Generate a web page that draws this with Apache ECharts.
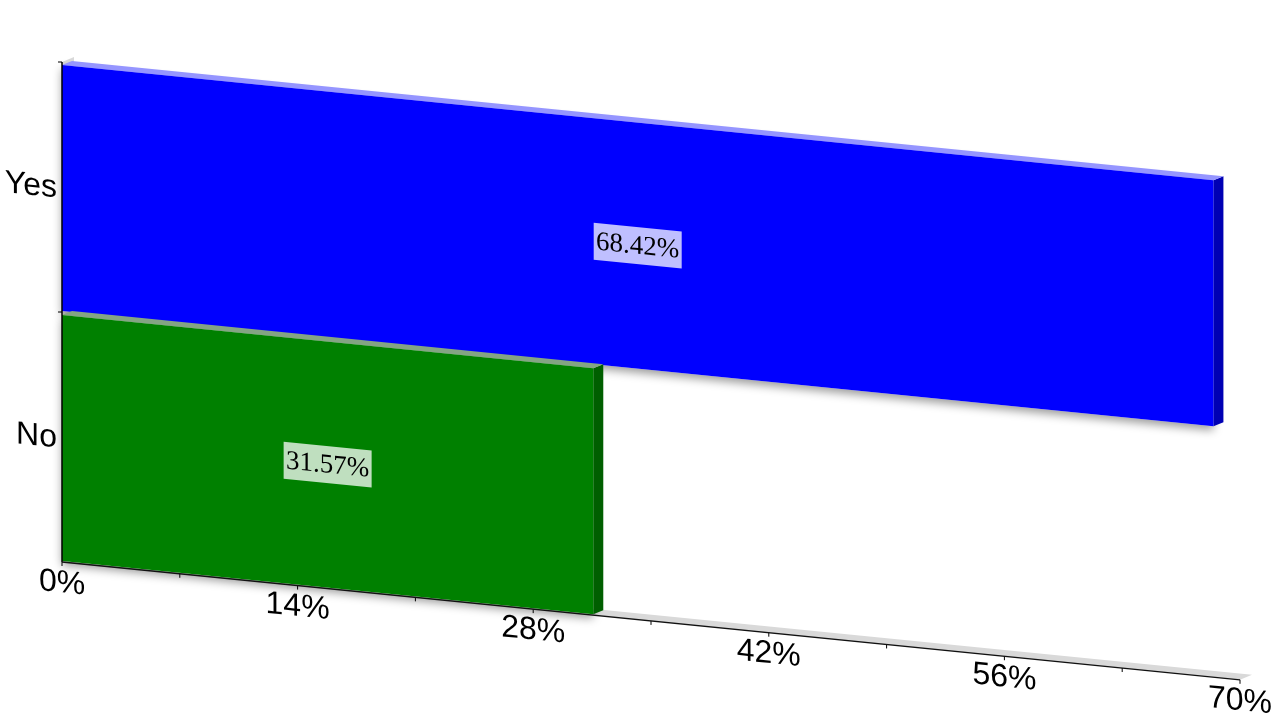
<!DOCTYPE html>
<html>
<head>
<meta charset="utf-8">
<style>html,body{margin:0;padding:0;background:#fff}#c{width:1280px;height:720px}</style>
<script src="https://cdn.jsdelivr.net/npm/echarts@6/dist/echarts.min.js"></script>
</head>
<body>
<div id="c"></div>
<script>
var categories = ['Yes', 'No'];
var values = [68.42, 31.57];
var valueLabels = ['68.42%', '31.57%'];
var faceColors = ['#0000ff', '#008000'];
var sideColors = ['#0000b4', '#005f00'];
var topColors = ['#9595ff', '#84a484'];
var xTicks = [0, 14, 28, 42, 56, 70];
var xTickLabels = ['0%', '14%', '28%', '42%', '56%', '70%'];
var xMinorTicks = [0, 7, 14, 21, 28, 35, 42, 49, 56, 63, 70];

var SLOPE = 0.1, DX = 10, DY = -4, WALLX = 12, WALLY = -5;
var sansFont = '32px "Liberation Sans", Arial, sans-serif';
var serifFont = '27px "Liberation Serif", "Times New Roman", serif';

// vertical shear of the text, expressed as rotate * scale * rotate (zrender has no skew prop on custom elements)
var shear = (function (s) {
  var E = 1, F = 0, G = s / 2, H = s / 2;
  var Q = Math.sqrt(E * E + H * H), R = Math.sqrt(F * F + G * G);
  var a1 = Math.atan2(G, F), a2 = Math.atan2(H, E);
  return { sx: Q + R, sy: Q - R, outer: -(a2 + a1) / 2, inner: -(a2 - a1) / 2 };
})(SLOPE);

function skewText(x, y, text, font, align) {
  return {
    type: 'group', x: x, y: y, rotation: shear.outer, scaleX: shear.sx, scaleY: shear.sy, silent: true,
    children: [{ type: 'text', x: 0, y: 0, rotation: shear.inner, silent: true,
      style: { text: text, font: font, fill: '#000', align: align || 'center', verticalAlign: 'middle' } }]
  };
}

// project value/category position through the axes, then shear for the 3D view
function proj(api, v, c, off) {
  var p = api.coord([v, c]);
  var o = api.coord([0, c]);
  return [p[0], p[1] + (p[0] - o[0]) * SLOPE + (off || 0)];
}
function band(api) { return api.size([0, 1])[1]; }
function shift(p, dx, dy) { return [p[0] + dx, p[1] + dy]; }
function poly(points, style) {
  return { type: 'polygon', shape: { points: points }, style: style, silent: true };
}
function line(a, b, w, color) {
  return { type: 'line', shape: { x1: a[0], y1: a[1], x2: b[0], y2: b[1] }, style: { stroke: color || '#000', lineWidth: w || 1 }, silent: true };
}

function renderFrame(params, api) {
  if (params.dataIndex !== 0) return { type: 'group', children: [] };
  var h = band(api);
  var bl = proj(api, 0, 1, h / 2), br = proj(api, 70, 1, h / 2);
  var tl = proj(api, 0, 0, -h / 2);
  return { type: 'group', children: [
    poly([bl, br, shift(br, WALLX, WALLY), shift(bl, WALLX, WALLY)], { fill: '#d9d9d9' }),
    poly([tl, shift(tl, WALLX, WALLY), shift(bl, WALLX, WALLY), bl], { fill: '#d9d9d9' })
  ] };
}

function renderBar(params, api) {
  var i = params.dataIndex, c = api.value(1), v = api.value(0), h = band(api);
  var fl = proj(api, 0, c, -h / 2 + 3), fr = proj(api, v, c, -h / 2 + 3);
  var bl = proj(api, 0, c, h / 2 - 1), br = proj(api, v, c, h / 2 - 1);
  var front = [fl, fr, br, bl];
  var mid = proj(api, v / 2, c, 1);
  var bw = 44, bh = 18.5;
  var box = [
    [mid[0] - bw, mid[1] - bh - bw * SLOPE],
    [mid[0] + bw, mid[1] - bh + bw * SLOPE],
    [mid[0] + bw, mid[1] + bh + bw * SLOPE],
    [mid[0] - bw, mid[1] + bh - bw * SLOPE]
  ];
  return { type: 'group', children: [
    poly(front, { fill: '#fff', shadowBlur: 10, shadowColor: 'rgba(0,0,0,0.4)', shadowOffsetY: 4 }),
    poly([fr, shift(fr, DX, DY), shift(br, DX, DY), br], { fill: sideColors[i] }),
    poly([fl, fr, shift(fr, DX, DY), shift(fl, DX, DY)], { fill: topColors[i] }),
    poly(front, { fill: faceColors[i] }),
    poly(box, { fill: 'rgba(255,255,255,0.75)' }),
    skewText(mid[0], mid[1] + 1, valueLabels[i], serifFont)
  ] };
}

function renderXTick(params, api) {
  var p = proj(api, api.value(0), 1, band(api) / 2);
  return line(p, [p[0], p[1] + 4], 1);
}

function renderXLabel(params, api) {
  var p = proj(api, api.value(0), 1, band(api) / 2);
  return skewText(p[0], p[1] + 21.5, xTickLabels[params.dataIndex], sansFont);
}

function renderYAxis(params, api) {
  var c = api.value(1), h = band(api);
  var top = proj(api, 0, c, -h / 2), bot = proj(api, 0, c, h / 2);
  var kids = [
    line(top, bot, 1.5),
    line(top, [top[0] - 4, top[1]], 1),
    skewText(top[0] - 5, top[1] + h / 2 + 1.5, categories[params.dataIndex], sansFont, 'right')
  ];
  if (params.dataIndex === categories.length - 1) {
    var r = proj(api, 70, c, h / 2);
    kids.push(line(bot, r, 1.3, '#111'));
  }
  return { type: 'group', children: kids };
}

var chart = echarts.init(document.getElementById('c'), null, { renderer: 'canvas' });
var catIdx = categories.map(function (_, i) { return i; });
chart.setOption({
  animation: false,
  backgroundColor: '#fff',
  grid: { left: 62, top: 62, width: 1178, height: 500 },
  xAxis: { type: 'value', min: 0, max: 70, interval: 14, show: false },
  yAxis: { type: 'category', data: categories, inverse: true, show: false },
  series: [
    { type: 'custom', name: 'frame', z: 1, clip: false, renderItem: renderFrame, encode: { x: 0, y: 1 },
      data: catIdx.map(function (i) { return [values[i], i]; }) },
    { type: 'custom', name: 'bars', z: 2, clip: false, renderItem: renderBar, encode: { x: 0, y: 1 },
      data: catIdx.map(function (i) { return [values[i], i]; }) },
    { type: 'custom', name: 'minorTicks', z: 3, clip: false, renderItem: renderXTick, encode: { x: 0, y: 1 },
      data: xMinorTicks.map(function (t) { return [t, 1]; }) },
    { type: 'custom', name: 'xLabels', z: 3, clip: false, renderItem: renderXLabel, encode: { x: 0, y: 1 },
      data: xTicks.map(function (t) { return [t, 1]; }) },
    { type: 'custom', name: 'yAxis', z: 3, clip: false, renderItem: renderYAxis, encode: { x: 0, y: 1 },
      data: catIdx.map(function (i) { return [0, i]; }) }
  ]
});
</script>
</body>
</html>
